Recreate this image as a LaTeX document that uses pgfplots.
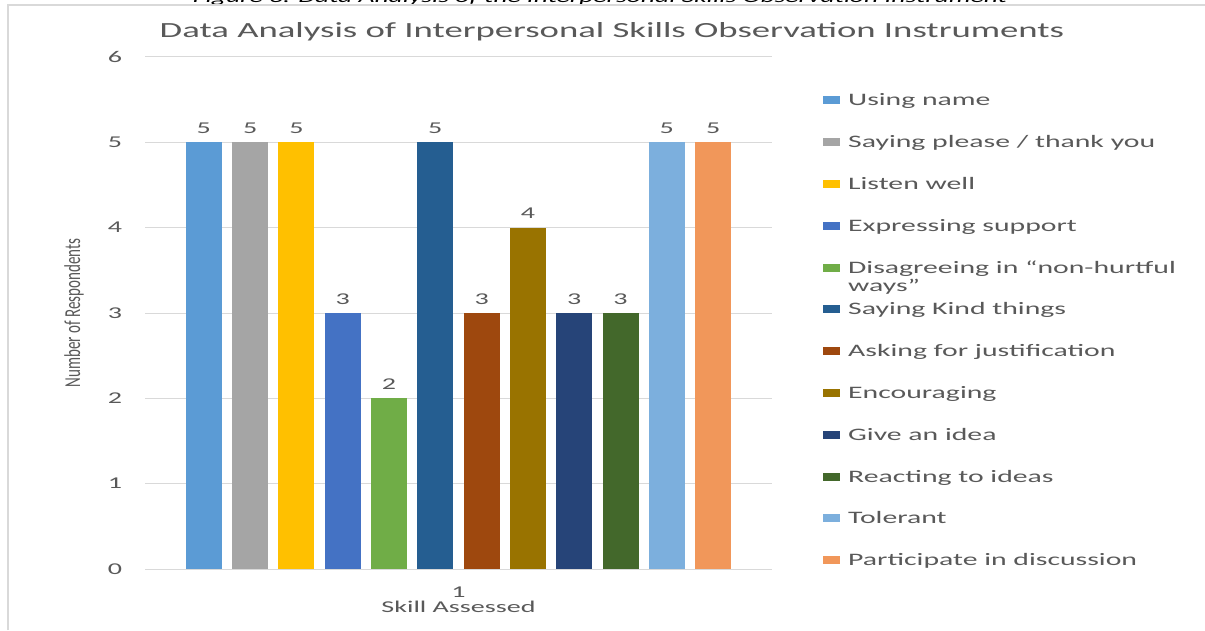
\documentclass[border=0pt]{standalone}
\usepackage{fontspec}
\usepackage{pgfplots}
\pgfplotsset{compat=1.18}
\setmainfont{Carlito}
\newfontfamily\wfont[FakeStretch=1.7]{Carlito}
\newfontfamily\yfont[FakeStretch=0.66]{Carlito}
\definecolor{c1}{HTML}{5B9BD5}
\definecolor{c2}{HTML}{A5A5A5}
\definecolor{c3}{HTML}{FFC000}
\definecolor{c4}{HTML}{4472C4}
\definecolor{c5}{HTML}{70AD47}
\definecolor{c6}{HTML}{255E91}
\definecolor{c7}{HTML}{9E480E}
\definecolor{c8}{HTML}{997300}
\definecolor{c9}{HTML}{264478}
\definecolor{c10}{HTML}{43682B}
\definecolor{c11}{HTML}{7CAFDD}
\definecolor{c12}{HTML}{F1975A}
\definecolor{txtgray}{HTML}{595959}
\definecolor{gridgray}{HTML}{D9D9D9}
\pgfplotsset{lg/.style={legend image code/.code={\fill[##1] (0pt,-2.5pt) rectangle (17pt,5.5pt);}}}
\begin{document}
\begin{tikzpicture}
\useasboundingbox (0,0) rectangle (1205pt,630pt);
\begin{scope}
\clip (0pt,625.5pt) rectangle (1205pt,630pt);
\node[anchor=base, inner sep=0pt, text=black, font=\wfont\itshape\fontsize{16.2}{19}\selectfont] at (600pt,627pt) {Figure 3. Data Analysis of the Interpersonal Skills Observation Instrument};
\end{scope}
\draw[gridgray, line width=1.5pt] (8pt,0pt) -- (8pt,625pt) -- (1205pt,625pt);
\begin{axis}[
  at={(145pt,61pt)}, anchor=south west,
  width=627pt, height=512pt, scale only axis,
  ybar=10.3pt, bar width=36pt,
  xmin=0.5, xmax=1.5, ymin=0, ymax=6,
  enlargelimits=false,
  xtick={1}, ytick={0,1,2,3,4,5,6},
  ymajorgrids, major grid style={draw=gridgray, line width=1pt},
  axis line style={draw=none}, tick style={draw=none},
  /pgf/number format/assume math mode=true,
  ticklabel style={font=\wfont\fontsize{16.5}{20}\selectfont, text=txtgray},
  yticklabel style={anchor=center, xshift=-30pt},
  xticklabel style={anchor=center, yshift=-19pt},
  title={Data Analysis of Interpersonal Skills Observation Instruments},
  title style={at={(axis description cs:0.7448,1.0488)}, anchor=center, yshift=-6pt, inner sep=0pt, font=\wfont\fontsize{21.6}{26}\selectfont, text=txtgray},
  xlabel={Skill Assessed},
  xlabel style={at={(axis description cs:0.5,-0.0742)}, anchor=center, inner sep=0pt, font=\wfont\fontsize{16.5}{20}\selectfont, text=txtgray},
  ylabel={Number of Respondents},
  ylabel style={at={(axis description cs:-0.1132,0.5)}, anchor=center, inner sep=0pt, font=\yfont\fontsize{22.8}{26}\selectfont, text=txtgray},
  nodes near coords,
  every node near coord/.append style={font=\wfont\fontsize{16.5}{20}\selectfont, text=txtgray, anchor=south, inner sep=0pt, yshift=8.5pt},
  legend cell align=left,
  legend style={at={(axis description cs:1.0813,0.9285)}, anchor=north west, draw=none, fill=none, inner sep=0pt, row sep=25.8pt, column sep=8pt,
    font=\wfont\fontsize{17.5}{21}\selectfont, text=txtgray,
    nodes={inner sep=0pt, text height=12pt, text depth=4pt}},
]
\addplot[fill=c1, draw=none, lg] coordinates {(1,5)};
\addlegendentry{Using name}
\addplot[fill=c2, draw=none, lg] coordinates {(1,5)};
\addlegendentry{Saying please / thank you}
\addplot[fill=c3, draw=none, lg] coordinates {(1,5)};
\addlegendentry{Listen well}
\addplot[fill=c4, draw=none, lg] coordinates {(1,3)};
\addlegendentry{Expressing support}
\addplot[fill=c5, draw=none, lg] coordinates {(1,2)};
\addlegendentry{\smash{\vtop{\baselineskip=18pt\hbox{Disagreeing in “non-hurtful}\hbox{ways”}}}}
\addplot[fill=c6, draw=none, lg] coordinates {(1,5)};
\addlegendentry{Saying Kind things}
\addplot[fill=c7, draw=none, lg] coordinates {(1,3)};
\addlegendentry{Asking for justification}
\addplot[fill=c8, draw=none, lg] coordinates {(1,4)};
\addlegendentry{Encouraging}
\addplot[fill=c9, draw=none, lg] coordinates {(1,3)};
\addlegendentry{Give an idea}
\addplot[fill=c10, draw=none, lg] coordinates {(1,3)};
\addlegendentry{Reacting to ideas}
\addplot[fill=c11, draw=none, lg] coordinates {(1,5)};
\addlegendentry{Tolerant}
\addplot[fill=c12, draw=none, lg] coordinates {(1,5)};
\addlegendentry{Participate in discussion}
\end{axis}
\end{tikzpicture}
\end{document}
